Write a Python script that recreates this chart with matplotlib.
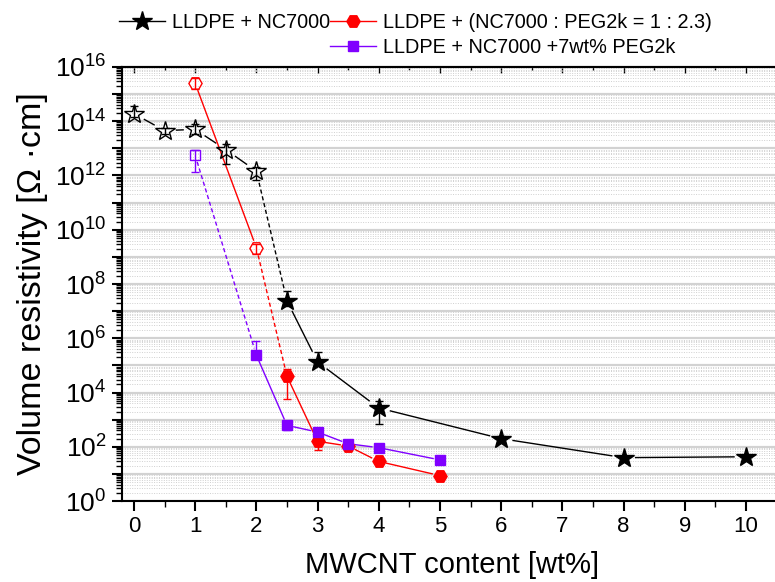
import matplotlib
matplotlib.use('Agg')
import matplotlib.pyplot as plt
import numpy as np
from matplotlib.ticker import FixedLocator, LogLocator, FuncFormatter, NullFormatter, MultipleLocator

plt.rcParams['font.family'] = ['Liberation Sans', 'DejaVu Sans']
plt.rcParams['mathtext.fontset'] = 'custom'
plt.rcParams['mathtext.rm'] = 'Liberation Sans'
plt.rcParams['mathtext.it'] = 'Liberation Sans:italic'

# LLDPE + NC7000
x_nc = [0, 0.5, 1, 1.5, 2, 2.5, 3, 4, 6, 8, 10]
y_nc = [1.9e14, 4.5e13, 5.0e13, 9.0e12, 1.45e12, 2.4e7, 1.35e5, 2.7e3, 200, 40, 43]
lo_nc = [1.4e14, 3.5e13, 3.5e13, 2.6e12, 6.8e11, 1.5e7, 1.0e5, 7.0e2, 170, 35, 38]
hi_nc = [3.5e14, 5.5e13, 8.0e13, 1.5e13, 2.0e12, 5.4e7, 3.0e5, 4.9e3, 250, 45, 48]

# LLDPE + (NC7000 : PEG2k = 1 : 2.3)
x_mb = [1, 2, 2.5, 3, 3.5, 4, 5]
y_mb = [2.5e15, 2.2e9, 4.0e4, 160, 107, 29, 8.7]
lo_mb = [1.5e15, 1.26e9, 5.9e3, 78, 90, 25, 7.5]
hi_mb = [3.8e15, 3.0e9, 7.2e4, 220, 125, 34, 10]

# LLDPE + NC7000 +7wt% PEG2k
x_peg = [1, 2, 2.5, 3, 3.5, 4, 5]
y_peg = [5.6e12, 2.4e5, 620, 350, 130, 93, 33]
lo_peg = [1.4e12, 1.8e5, 400, 300, 110, 85, 30]
hi_peg = [9.0e12, 7.8e5, 700, 500, 150, 100, 36]

RED = '#ff0000'
PURPLE = '#8000ff'

fig = plt.figure(figsize=(7.75, 5.82), dpi=100)
ax = fig.add_axes([0.157, 0.139, 0.853, 0.746])
ax.set_yscale('log')
ax.set_ylim(1, 1e16)
ax.set_xlim(-0.2, 10.6)


def draw(x, y, lo, hi, color, marker, ms, n_open, dashed_upto, gap):
    x = np.array(x, float)
    y = np.array(y, float)
    yerr = [y - np.array(lo), np.array(hi) - y]
    # connecting lines with Origin-like gaps around the symbols
    pts = ax.transData.transform(np.column_stack([x, y]))
    for i in range(len(x) - 1):
        p0, p1 = pts[i], pts[i + 1]
        d = p1 - p0
        L = np.hypot(*d)
        if L <= 2 * gap:
            continue
        u = d / L
        seg = ax.transData.inverted().transform([p0 + u * gap, p1 - u * gap])
        ls = (0, (3, 2)) if i == dashed_upto else '-'
        ax.plot(seg[:, 0], seg[:, 1], color=color, lw=1, ls=ls, zorder=2)
    ax.errorbar(x, y, yerr=yerr, fmt='none', ecolor=color, elinewidth=1,
                capsize=3, capthick=1, zorder=3)
    ax.plot(x[:n_open], y[:n_open], ls='none', marker=marker, ms=ms,
            mfc='none', mec=color, mew=1, zorder=4)
    ax.plot(x[n_open:], y[n_open:], ls='none', marker=marker, ms=ms,
            mfc=color, mec=color, mew=1, zorder=4)


draw(x_nc, y_nc, lo_nc, hi_nc, 'black', '*', 15, 5, 4, 12)
draw(x_mb, y_mb, lo_mb, hi_mb, RED, 'H', 9.5, 2, 1, 8)
draw(x_peg, y_peg, lo_peg, hi_peg, PURPLE, 's', 7.5, 1, 0, 7)

ax.yaxis.set_major_locator(FixedLocator([10.0 ** k for k in range(0, 17)]))
ax.yaxis.set_major_formatter(FuncFormatter(
    lambda v, p: r'$10^{%d}$' % round(np.log10(v)) if round(np.log10(v)) % 2 == 0 else ''))
ax.yaxis.set_minor_locator(LogLocator(base=10, subs=np.arange(2, 10), numticks=40))
ax.yaxis.set_minor_formatter(NullFormatter())
ax.xaxis.set_major_locator(MultipleLocator(1))
ax.xaxis.set_minor_locator(MultipleLocator(0.5))

ax.grid(True, which='major', axis='y', color='#d2d2d2', lw=1.6, zorder=0)
ax.grid(True, which='minor', axis='y', color='#d0d0d0', lw=0.7, ls=(0, (1, 1.5)), zorder=0)
ax.set_axisbelow(True)

for s in ['left', 'bottom', 'top']:
    ax.spines[s].set_linewidth(1.5)
ax.spines['right'].set_visible(False)

ax.tick_params(axis='y', which='major', direction='out', length=7, width=1.5,
               labelsize=19, pad=4)
ax.tick_params(axis='y', which='minor', direction='out', length=4, width=1)
ax.tick_params(axis='x', which='major', direction='out', length=7, width=1.5,
               labelsize=16, pad=4)
ax.tick_params(axis='x', which='minor', direction='out', length=4, width=1)

top = ax.secondary_xaxis('top')
top.xaxis.set_major_locator(MultipleLocator(1))
top.xaxis.set_minor_locator(MultipleLocator(0.5))
top.tick_params(which='major', direction='in', length=4, width=1, labeltop=False)
top.tick_params(which='minor', direction='in', length=2, width=1)
top.spines['top'].set_linewidth(1.5)

ax.set_xlabel('MWCNT content [wt%]', fontsize=21, labelpad=10)
ax.set_ylabel('Volume resistivity [Ω ·cm]', fontsize=24.5, labelpad=5)

# legend above the plot
h_nc = plt.Line2D([], [], color='black', lw=1, marker='*', ms=15, mfc='black', mec='black')
h_mb = plt.Line2D([], [], color=RED, lw=1, marker='H', ms=9.5, mfc=RED, mec=RED)
h_peg = plt.Line2D([], [], color=PURPLE, lw=1, marker='s', ms=7.5, mfc=PURPLE, mec=PURPLE)
h_blank = plt.Line2D([], [], color='none')
fig.legend([h_nc, h_blank, h_mb, h_peg],
           ['LLDPE + NC7000', '', 'LLDPE + (NC7000 : PEG2k = 1 : 2.3)',
            'LLDPE + NC7000 +7wt% PEG2k'],
           ncol=2, loc='upper left', bbox_to_anchor=(0.154, 0.978), frameon=False,
           fontsize=14.3, handlelength=2.3, handletextpad=0.35, columnspacing=0.0,
           labelspacing=0.32, borderpad=0, borderaxespad=0)

fig.savefig('out.png', dpi=100)
